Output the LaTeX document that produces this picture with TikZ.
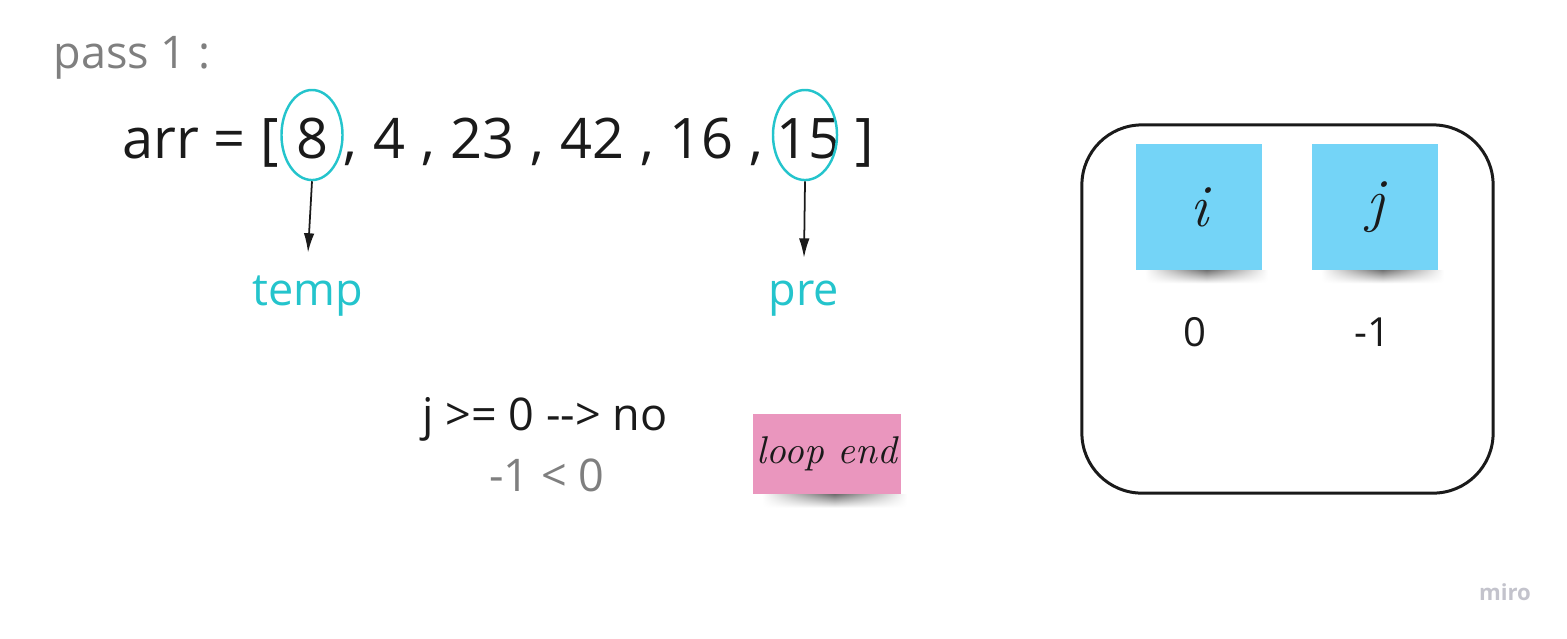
\documentclass[tikz,border=0pt]{standalone}
\usepackage{fontspec}
\setmainfont{Open Sans}
\newfontfamily\handfont{Latin Modern Roman}
\usetikzlibrary{arrows.meta,shapes.geometric,positioning,fadings}
\definecolor{ink}{HTML}{1A1A1A}
\definecolor{dim}{HTML}{7F7F7F}
\definecolor{mark}{HTML}{24C4CC}
\definecolor{bluenote}{HTML}{74D4F7}
\definecolor{pinknote}{HTML}{EA96BE}
\definecolor{logo}{HTML}{C3C3CC}
\tikzfading[name=softedge,left color=transparent!100,right color=transparent!100,middle color=transparent!0]
\begin{document}
\begin{tikzpicture}[x=0.01cm,y=-0.01cm,
    txt/.style={inner sep=0pt,text=ink},
    big/.style={font=\fontsize{15.9}{19}\selectfont},
    mid/.style={font=\fontsize{12.8}{15}\selectfont},
    circ/.style={ellipse,draw=mark,line width=0.7pt,inner sep=0pt,minimum width=0.61cm,minimum height=0.9cm},
    pointer/.style={-{Latex[length=5.5pt,width=3pt]},line width=0.5pt,ink},
    sticky/.style={rectangle,inner sep=0pt,font=\handfont\itshape\fontsize{11}{13}\selectfont,text=ink}]
    \useasboundingbox (0,0) rectangle (1567,638);
    % array line
    \node[txt,mid,text=dim,anchor=base west] (pass) at (53,68) {pass 1 :};
    \node[txt,big,anchor=base west] (arr) at (122,158) {arr = [};
    \node[txt,big,anchor=base] (d8) at (312,158) {8};
    \node[txt,big,anchor=base west] (rest) at (343,158) {\spaceskip=0.285em, 4 , 23 , 42 , 16 ,};
    \node[txt,big,anchor=base] (d15) at (808,158) {15};
    \node[txt,big,anchor=base west] (close) at (855,158) {]};
    \node[circ] (eight) at (312,135) {};
    \node[circ,minimum width=0.64cm] (fifteen) at (805,135) {};
    % pointers
    \node[txt,mid,text=mark,anchor=base] (temp) at (308,305) {temp};
    \node[txt,mid,text=mark,anchor=base] (pre) at (804,305) {pre};
    \draw[pointer] (eight.south) -- ([yshift=2.2mm]temp.north);
    \draw[pointer] (fifteen.south) -- ([yshift=2.2mm]pre.north);
    % condition
    \node[txt,mid,anchor=base] (cond) at (545,430) {j >= 0 -{}-> no};
    \node[txt,mid,text=dim,anchor=base] (check) at (547,491) {-1 < 0};
    \node[sticky,fill=pinknote,minimum width=1.48cm,minimum height=0.8cm] (endnote) at (827,454) {loop end};
    % variables
    \node[draw=ink,line width=0.85pt,rounded corners=0.6cm,minimum width=4.11cm,minimum height=3.68cm] (vars) at (1287.5,309) {};
    \node[sticky,fill=bluenote,minimum width=1.26cm,minimum height=1.25cm,font=\handfont\itshape\fontsize{17}{20}\selectfont] (inote) at (1199,207) {i};
    \node[sticky,fill=bluenote,minimum width=1.26cm,minimum height=1.25cm,font=\handfont\itshape\fontsize{17}{20}\selectfont] (jnote) at (1375,207) {j};
    \node[txt,font=\fontsize{11.4}{14}\selectfont,anchor=base] (ival) at (1195,346) {0};
    \node[txt,font=\fontsize{11.4}{14}\selectfont,anchor=base] (jval) at (1372,346) {-1};
    \foreach \n in {inote,jnote,endnote}
        \shade[top color=black!55,bottom color=white,path fading=softedge] ([xshift=1mm]\n.south west) rectangle ([xshift=0.5mm,yshift=-1.3mm]\n.south east);
    \node[inner sep=0pt,text=logo,font=\bfseries\fontsize{6.3}{8}\selectfont,anchor=base] (miro) at (1505,600) {miro};
\end{tikzpicture}
\end{document}
